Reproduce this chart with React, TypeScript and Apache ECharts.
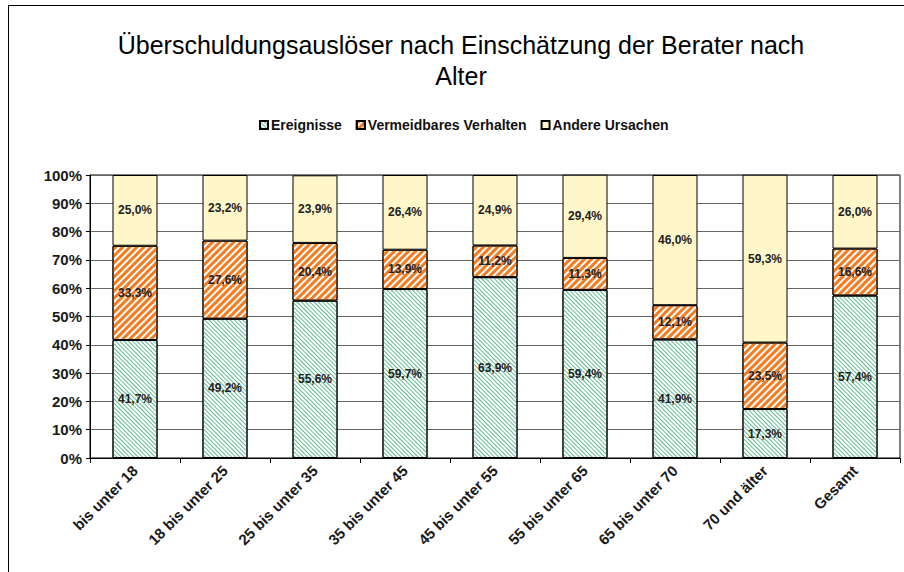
import React, { useEffect, useRef } from "react";
import * as echarts from "echarts";

const categories = [
  "bis unter 18",
  "18 bis unter 25",
  "25 bis unter 35",
  "35 bis unter 45",
  "45 bis unter 55",
  "55 bis unter 65",
  "65 bis unter 70",
  "70 und älter",
  "Gesamt",
];
const ereignisse = [41.7, 49.2, 55.6, 59.7, 63.9, 59.4, 41.9, 17.3, 57.4];
const vermeidbar = [33.3, 27.6, 20.4, 13.9, 11.2, 11.3, 12.1, 23.5, 16.6];
const andere = [25.0, 23.2, 23.9, 26.4, 24.9, 29.4, 46.0, 59.3, 26.0];
const seriesNames = ["Ereignisse", "Vermeidbares Verhalten", "Andere Ursachen"];
const titleText = "Überschuldungsauslöser nach Einschätzung der Berater nach\nAlter";

const FONT = "'Liberation Sans', Arial, sans-serif";

const fmt = (p: any) => Number(p.value).toFixed(1).replace(".", ",") + "%";

export default function App() {
  const ref = useRef<HTMLDivElement>(null);
  useEffect(() => {
    if (!ref.current) return;
    const chart = echarts.init(ref.current, undefined, { renderer: "svg" });
    const label = {
      show: true,
      position: "inside",
      formatter: fmt,
      fontFamily: FONT,
      fontWeight: "bold",
      fontSize: 12,
      color: "#222",
    };
    chart.setOption({
      animation: false,
      backgroundColor: "#fff",
      textStyle: { fontFamily: FONT },
      graphic: [
        {
          type: "rect",
          shape: { x: 8.5, y: 5.5, width: 1000, height: 1000 },
          style: { fill: "none", stroke: "#000", lineWidth: 1 },
          silent: true,
        },
        {
          type: "text",
          x: 461,
          y: 29,
          style: {
            text: titleText,
            font: `25px ${FONT}`,
            fill: "#000",
            textAlign: "center",
            textVerticalAlign: "top",
            lineHeight: 31,
          },
        },
      ],
      legend: {
        data: seriesNames,
        left: 254,
        top: 113,
        icon: "rect",
        itemWidth: 8,
        itemHeight: 8,
        itemGap: 14,
        textStyle: { fontFamily: FONT, fontWeight: "bold", fontSize: 14, color: "#111", padding: [0, 0, 0, -2] },
      },
      grid: {
        left: 90,
        right: 4,
        top: 175,
        bottom: 114,
        show: true,
        borderColor: "#000",
        borderWidth: 1,
        containLabel: false,
      },
      xAxis: {
        type: "category",
        data: categories,
        axisLine: { show: true, lineStyle: { color: "#000", width: 1 } },
        axisTick: { show: true, length: 5, lineStyle: { color: "#000" } },
        axisLabel: {
          interval: 0,
          rotate: 45,
          margin: 10,
          fontFamily: FONT,
          fontWeight: "bold",
          fontSize: 15,
          color: "#1a1a1a",
        },
        splitLine: { show: false },
      },
      yAxis: {
        type: "value",
        min: 0,
        max: 100,
        interval: 10,
        axisLine: { show: true, lineStyle: { color: "#000", width: 1 } },
        axisTick: { show: true, length: 4, lineStyle: { color: "#000" } },
        axisLabel: {
          formatter: "{value}%",
          margin: 8,
          fontFamily: FONT,
          fontWeight: "bold",
          fontSize: 15,
          color: "#1a1a1a",
        },
        splitLine: { show: true, lineStyle: { color: "#666", width: 1 } },
      },
      series: [
        {
          name: seriesNames[0],
          type: "bar",
          stack: "total",
          barWidth: "50%",
          data: ereignisse,
          label,
          itemStyle: {
            color: "#ffffff",
            borderColor: "#000",
            borderWidth: 1,
            decal: {
              symbol: "rect",
              symbolSize: 1,
              color: "#62bb92",
              backgroundColor: "#ffffff",
              dashArrayX: [1, 0],
              dashArrayY: [1, 2],
              rotation: Math.PI / 4,
            },
          },
        },
        {
          name: seriesNames[1],
          type: "bar",
          stack: "total",
          barWidth: "50%",
          data: vermeidbar,
          label,
          itemStyle: {
            color: "#ffffff",
            borderColor: "#000",
            borderWidth: 1,
            decal: {
              symbol: "rect",
              symbolSize: 1,
              color: "#f47b20",
              backgroundColor: "#ffffff",
              dashArrayX: [1, 0],
              dashArrayY: [2.4, 1.2],
              rotation: -Math.PI / 4,
            },
          },
        },
        {
          name: seriesNames[2],
          type: "bar",
          stack: "total",
          barWidth: "50%",
          data: andere,
          label,
          itemStyle: { color: "#fff6c9", borderColor: "#000", borderWidth: 1 },
        },
      ],
    });
    return () => chart.dispose();
  }, []);
  return (
    <div
      ref={ref}
      style={{ position: "fixed", left: 0, top: 0, width: 904, height: 572, background: "#fff" }}
    />
  );
}
